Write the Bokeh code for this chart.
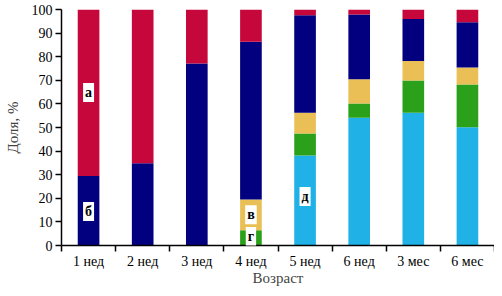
from bokeh.plotting import figure
from bokeh.models import FixedTicker, Range1d, Label
from bokeh.embed import file_html
from bokeh.resources import INLINE

categories = ["1 нед", "2 нед", "3 нед", "4 нед", "5 нед", "6 нед", "3 мес", "6 мес"]
d_vals = [0, 0, 0, 0, 38.1, 54.1, 56.2, 50.1]
g_vals = [0, 0, 0, 6.5, 9.4, 6.1, 13.7, 18.1]
v_vals = [0, 0, 0, 13.0, 8.7, 10.2, 8.3, 7.2]
b_vals = [29.4, 34.9, 77.1, 66.8, 41.4, 27.5, 17.8, 19.2]
a_vals = [70.6, 65.1, 22.9, 13.7, 2.4, 2.2, 4.0, 5.4]
series_names = ["д", "г", "в", "б", "а"]
colors = ["#20B2E6", "#2BA11B", "#EABF55", "#02007F", "#C6073B"]
y_ticks = list(range(0, 101, 10))

# letter annotations: (letter, category index, y value %)
letter_marks = [("а", 0, 64.8), ("б", 0, 14.4), ("в", 3, 13.0), ("г", 3, 3.8), ("д", 4, 20.8)]

FONT = "'Liberation Serif', serif"

xs = [i + 0.5 for i in range(len(categories))]
data = {"x": xs, "д": d_vals, "г": g_vals, "в": v_vals, "б": b_vals, "а": a_vals}

p = figure(width=494, height=288, output_backend="svg", toolbar_location=None,
           x_range=Range1d(0, len(categories)), y_range=Range1d(0, 100),
           min_border_left=61, min_border_right=0, min_border_top=9, min_border_bottom=40)

p.vbar_stack(series_names, x="x", width=0.4, color=colors, source=data, line_width=0)

p.grid.visible = False
p.outline_line_color = None

ya = p.yaxis[0]
ya.ticker = FixedTicker(ticks=y_ticks, minor_ticks=[])
ya.axis_label = "Доля, %"
ya.axis_line_width = 1.5
ya.axis_line_color = "black"
ya.major_tick_in = 0
ya.major_tick_out = 6
ya.major_tick_line_width = 1.5
ya.major_label_standoff = 3
ya.major_label_text_font = FONT
ya.major_label_text_font_size = "14px"
ya.major_label_text_color = "black"
ya.axis_label_text_font = FONT
ya.axis_label_text_font_size = "15px"
ya.axis_label_text_font_style = "normal"
ya.axis_label_standoff = 8

xa = p.xaxis[0]
xa.ticker = FixedTicker(ticks=xs, minor_ticks=list(range(len(categories) + 1)))
xa.major_label_overrides = {x: c for x, c in zip(xs, categories)}
xa.major_tick_line_color = None
xa.major_tick_in = 0
xa.major_tick_out = 6
xa.minor_tick_in = 0
xa.minor_tick_out = 6
xa.minor_tick_line_width = 1.5
xa.minor_tick_line_color = "black"
xa.axis_line_width = 1.5
xa.axis_line_color = "black"
xa.major_label_standoff = 2
xa.major_label_text_font = FONT
xa.major_label_text_font_size = "14px"
xa.major_label_text_color = "black"
xa.axis_label = "Возраст"
xa.axis_label_text_font = FONT
xa.axis_label_text_font_size = "15px"
xa.axis_label_text_font_style = "normal"
xa.axis_label_standoff = -2

for letter, idx, yv in letter_marks:
    p.add_layout(Label(x=xs[idx], y=yv, text=letter, text_align="center", text_baseline="middle",
                       text_font=FONT, text_font_size="14px", text_font_style="bold",
                       text_color="black", background_fill_color="white", padding=2))

open("out.html", "w").write(file_html(p, INLINE))
